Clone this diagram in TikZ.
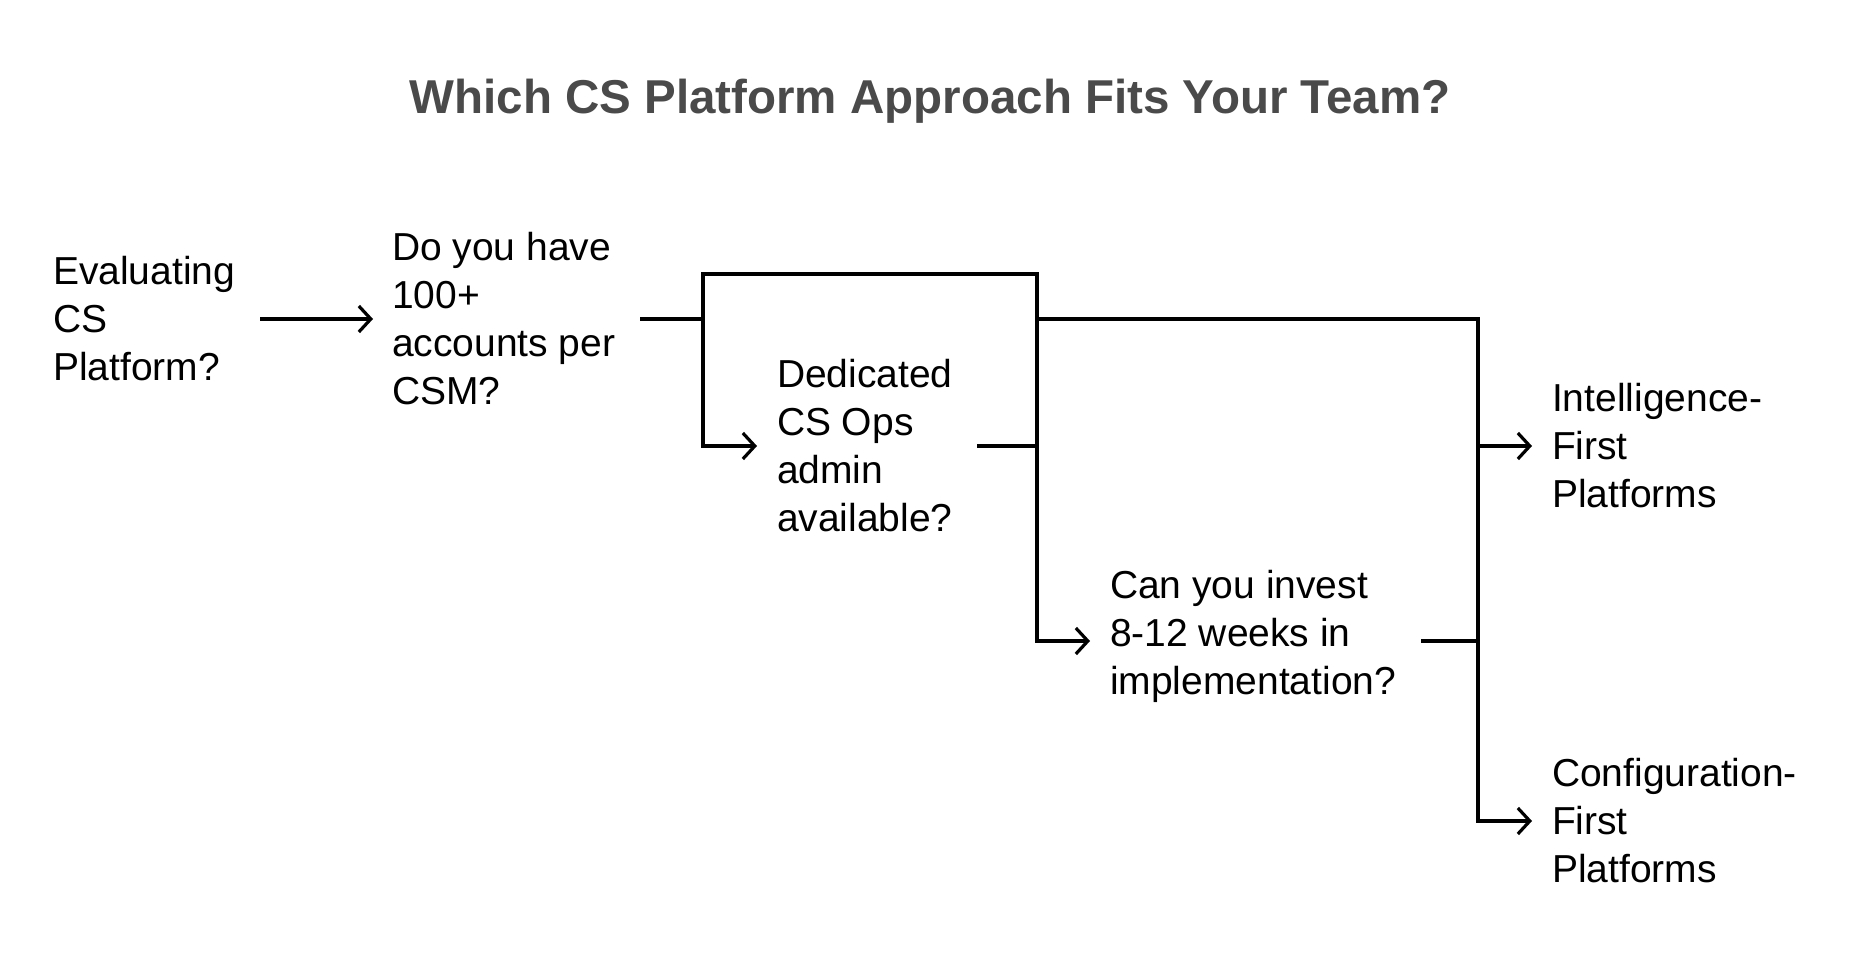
\documentclass[tikz,border=0pt]{standalone}
\usepackage{fontspec}
\setmainfont{Liberation Sans}
\usetikzlibrary{arrows.meta}
\definecolor{titlegray}{HTML}{4A4A4A}

\tikzset{
  label text/.style={anchor=west, inner sep=0pt, outer sep=0pt, align=left,
    font=\fontsize{39}{48}\selectfont},
  link/.style={line width=3.2pt, line cap=rect},
  flow/.style={link, -{Straight Barb[length=12pt,width=26pt,line width=3.2pt]}}
}

\begin{document}
\begin{tikzpicture}[x=1pt,y=-1pt]
    \useasboundingbox (0,0) rectangle (1854,960);

    \path (930,114) node [anchor=base, inner sep=0pt, text=titlegray,
      font=\fontsize{47.5}{56}\selectfont\bfseries] (title) {Which CS Platform Approach Fits Your Team?};

    \path (  53,319) node [label text] (eval)   {Evaluating\\CS\\Platform?};
    \path ( 392,319) node [label text] (accts)  {Do you have\\100+\\accounts per\\CSM?};
    \path ( 777,446) node [label text] (ops)    {Dedicated\\CS Ops\\admin\\available?};
    \path (1110,636) node [label text] (invest) {Can you invest\\8-12 weeks in\\implementation?};
    \path (1552,446) node [label text] (intel)  {Intelligence-\\First\\Platforms};
    \path (1552,821) node [label text] (config) {Configuration-\\First\\Platforms};

    \coordinate (j1)  at ( 703,319);
    \coordinate (j1t) at ( 703,274);
    \coordinate (j2t) at (1037,274);
    \coordinate (j2m) at (1037,319);
    \coordinate (j2b) at (1037,641);
    \coordinate (j3)  at (1478,641);
    \coordinate (j3b) at (j3 |- config.west);

    \draw [flow, shorten <=26pt, shorten >=19pt] (eval) -- (accts);
    \draw [link, shorten <=26pt] (accts.east) -- (j1);
    \draw [flow, shorten >=20pt] (j2b) -- (j2t) -- (j1t) |- (ops.west);
    \draw [link, shorten <=26pt] (ops.east) -- (ops.east -| j2t);
    \draw [flow, shorten >=20pt] (j2m) -| (j3b) -- (config.west);
    \draw [flow, shorten >=20pt] (j2b) -- (invest.west |- j2b);
    \draw [link, shorten <=26pt] (invest.east |- j2b) -- (j3);
    \draw [flow, shorten >=20pt] (j3b |- intel.west) -- (intel.west);
\end{tikzpicture}
\end{document}
